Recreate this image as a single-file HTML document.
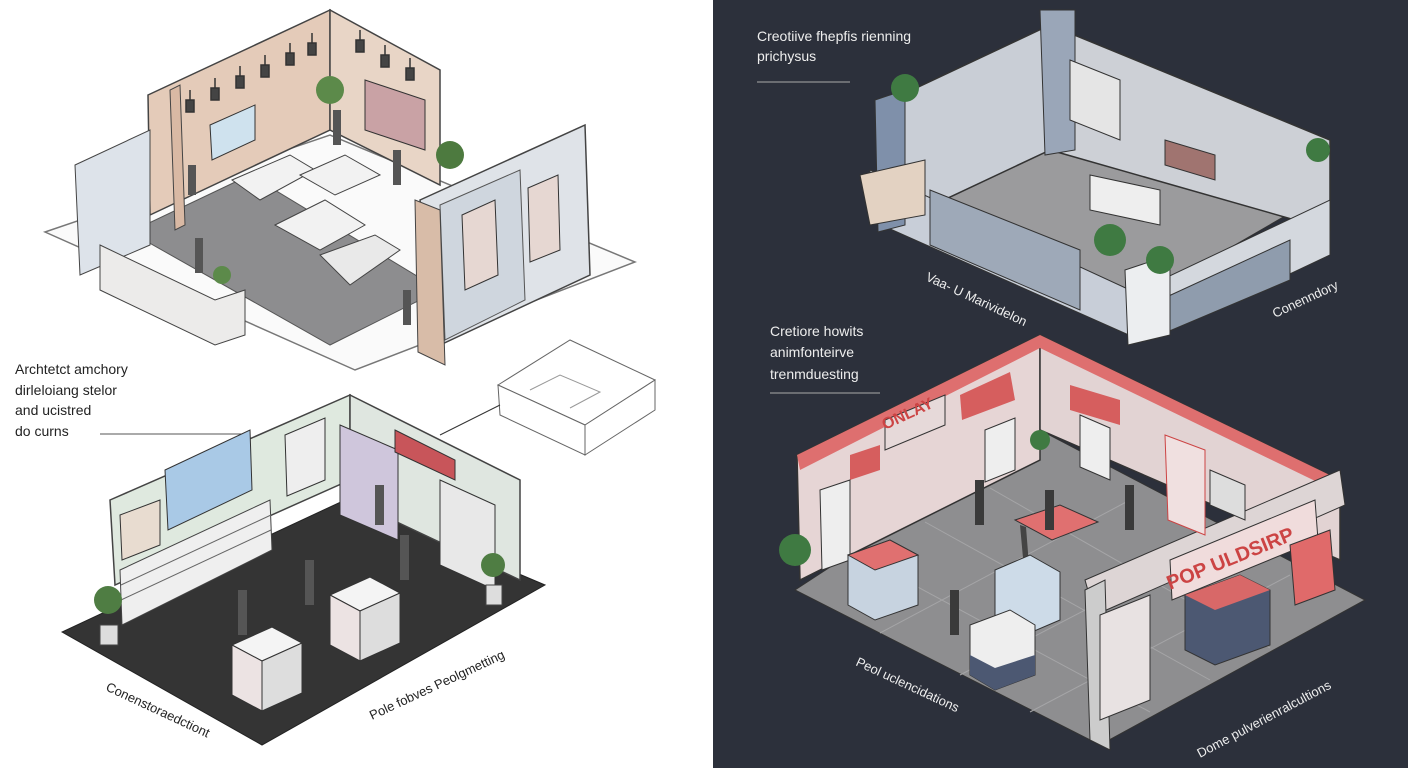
<!DOCTYPE html>
<html><head><meta charset="utf-8"><style>
html,body{margin:0;padding:0;width:1408px;height:768px;overflow:hidden;background:#fff}
svg text{font-family:"Liberation Sans",sans-serif}
</style></head><body>
<svg width="1408" height="768" viewBox="0 0 1408 768" xmlns="http://www.w3.org/2000/svg">
<defs>
<g id="box"><polygon points="0,0 40,-18 70,-2 30,16" fill="#f4f4f4" stroke="#333"/><polygon points="0,0 30,16 30,66 0,50" fill="#ece3e3" stroke="#333"/><polygon points="30,16 70,-2 70,48 30,66" fill="#ddd" stroke="#333"/></g>
</defs>
<rect x="0" y="0" width="713" height="768" fill="#ffffff"/>
<rect x="713" y="0" width="695" height="768" fill="#2c303b"/>

<!-- TOP LEFT STORE -->
<polygon points="45,232 355,370 635,262 330,135" fill="#fafafa" stroke="#777" stroke-width="1.5"/>
<polygon points="130,232 330,345 440,290 250,175" fill="#8d8d8f" stroke="#555"/>
<polygon points="148,95 330,10 330,130 150,215" fill="#e4cbb9" stroke="#444" stroke-width="1.5"/>
<polygon points="330,10 440,70 440,185 330,130" fill="#e8d5c6" stroke="#444" stroke-width="1.5"/>
<polygon points="170,90 175,230 185,225 180,85" fill="#d9b9a4" stroke="#444"/>
<g stroke="#333" stroke-width="1.5" fill="#444">
<line x1="190" y1="90" x2="190" y2="100"/><rect x="186" y="100" width="8" height="12"/>
<line x1="215" y1="78" x2="215" y2="88"/><rect x="211" y="88" width="8" height="12"/>
<line x1="240" y1="66" x2="240" y2="76"/><rect x="236" y="76" width="8" height="12"/>
<line x1="265" y1="55" x2="265" y2="65"/><rect x="261" y="65" width="8" height="12"/>
<line x1="290" y1="43" x2="290" y2="53"/><rect x="286" y="53" width="8" height="12"/>
<line x1="312" y1="33" x2="312" y2="43"/><rect x="308" y="43" width="8" height="12"/>
<line x1="360" y1="30" x2="360" y2="40"/><rect x="356" y="40" width="8" height="12"/>
<line x1="385" y1="45" x2="385" y2="55"/><rect x="381" y="55" width="8" height="12"/>
<line x1="410" y1="58" x2="410" y2="68"/><rect x="406" y="68" width="8" height="12"/>
</g>
<polygon points="420,200 585,125 590,275 440,345" fill="#dfe3e8" stroke="#444" stroke-width="1.5"/>
<polygon points="440,205 520,170 525,300 445,340" fill="#cfd6de" stroke="#555"/>
<polygon points="415,200 440,210 445,365 418,352" fill="#d8bca8" stroke="#444"/>
<polygon points="75,165 150,130 150,245 80,275" fill="#dde3ea" stroke="#444"/>
<polygon points="100,245 215,300 245,290 245,335 215,345 100,290" fill="#ecebea" stroke="#444"/>
<polygon points="210,125 255,105 255,140 212,160" fill="#cfe2ee" stroke="#333"/>
<polygon points="365,80 425,100 425,150 365,130" fill="#c9a2a5" stroke="#333"/>
<polygon points="462,215 495,200 498,275 465,290" fill="#e6d7d2" stroke="#333"/>
<polygon points="528,188 558,175 560,250 530,262" fill="#e6d7d2" stroke="#333"/>
<polygon points="232,180 290,155 315,170 260,200" fill="#f2f2f2" stroke="#444"/>
<polygon points="300,175 345,155 380,175 335,195" fill="#f2f2f2" stroke="#444"/>
<polygon points="275,225 325,200 365,225 320,250" fill="#f2f2f2" stroke="#444"/>
<polygon points="320,255 375,235 400,250 350,285" fill="#e9e9e9" stroke="#444"/>
<circle cx="330" cy="90" r="14" fill="#5c8a4a"/>
<circle cx="450" cy="155" r="14" fill="#4d7a3f"/>
<circle cx="222" cy="275" r="9" fill="#5c8a4a"/>
<g fill="#555"><rect x="188" y="165" width="8" height="30"/><rect x="333" y="110" width="8" height="35"/><rect x="393" y="150" width="8" height="35"/><rect x="195" y="238" width="8" height="35"/><rect x="403" y="290" width="8" height="35"/></g>

<text x="15" y="374" font-size="14" fill="#222">Archtetct amchory</text>
<text x="15" y="395" font-size="14" fill="#222">dirleloiang stelor</text>
<text x="15" y="415" font-size="14" fill="#222">and ucistred</text>
<text x="15" y="436" font-size="14" fill="#222">do curns</text>
<line x1="100" y1="434" x2="242" y2="434" stroke="#555"/>

<polygon points="498,385 570,340 655,380 585,425" fill="#fff" stroke="#666"/>
<polygon points="498,385 585,425 585,455 500,415" fill="#fff" stroke="#666"/>
<polygon points="585,425 655,380 655,410 585,455" fill="#fff" stroke="#666"/>
<polyline points="530,390 560,375 600,392 570,408" fill="none" stroke="#999"/>
<line x1="500" y1="405" x2="440" y2="435" stroke="#333"/>

<!-- BOTTOM LEFT STORE -->
<polygon points="62,632 262,745 545,585 345,500" fill="#343434" stroke="#222"/>
<polygon points="110,500 350,395 350,480 115,585" fill="#dfe9df" stroke="#444" stroke-width="1.5"/>
<polygon points="350,395 520,480 520,580 350,500" fill="#dfe6e0" stroke="#444" stroke-width="1.5"/>
<polygon points="340,425 398,450 398,540 340,515" fill="#cfc6dc" stroke="#333"/>
<polygon points="395,430 455,460 455,480 395,452" fill="#c8555a" stroke="#333"/>
<polygon points="440,480 495,505 495,590 440,565" fill="#e8e8e8" stroke="#333"/>
<polygon points="165,470 250,430 252,490 168,530" fill="#a9c9e6" stroke="#333"/>
<polygon points="120,515 160,500 160,545 122,560" fill="#e8dcd0" stroke="#333"/>
<polygon points="285,435 325,418 325,480 287,496" fill="#eee" stroke="#333"/>
<polygon points="120,570 270,500 272,550 122,625" fill="#efefef" stroke="#444"/>
<g stroke="#666"><line x1="121" y1="585" x2="271" y2="515"/><line x1="121" y1="600" x2="271" y2="530"/></g>
<use href="#box" x="232" y="645"/>
<use href="#box" x="330" y="595"/>
<circle cx="108" cy="600" r="14" fill="#4f7d43"/><rect x="100" y="625" width="18" height="20" fill="#ddd" stroke="#444"/>
<circle cx="493" cy="565" r="12" fill="#4f7d43"/><rect x="486" y="585" width="16" height="20" fill="#ddd" stroke="#444"/>
<g fill="#555"><rect x="238" y="590" width="9" height="45"/><rect x="305" y="560" width="9" height="45"/><rect x="375" y="485" width="9" height="40"/><rect x="400" y="535" width="9" height="45"/></g>
<text x="105" y="690" font-size="13" fill="#222" transform="rotate(25 105 690)">Conenstoraedctiont</text>
<text x="372" y="720" font-size="13" fill="#222" transform="rotate(-25 372 720)">Pole fobves Peolgmetting</text>

<!-- TOP RIGHT STORE -->
<text x="757" y="41" font-size="14" fill="#eee">Creotiive fhepfis rienning</text>
<text x="757" y="61" font-size="14" fill="#eee">prichysus</text>
<line x1="757" y1="82" x2="850" y2="82" stroke="#aaa"/>
<polygon points="860,180 1045,90 1330,190 1140,300" fill="#9b9b9d" stroke="#333"/>
<polygon points="880,105 1050,25 1050,150 880,230" fill="#c9ced6" stroke="#333" stroke-width="1.5"/>
<polygon points="1050,25 1330,140 1330,230 1050,150" fill="#cdd0d6" stroke="#333" stroke-width="1.5"/>
<polygon points="870,170 1130,290 1140,340 870,220" fill="#c8ced8" stroke="#333"/>
<polygon points="930,190 1080,250 1080,310 930,245" fill="#9ea9b8" stroke="#333"/>
<polygon points="1140,290 1330,200 1330,255 1150,340" fill="#d4d8de" stroke="#333"/>
<polygon points="1160,300 1290,240 1290,280 1160,335" fill="#8f9cad" stroke="#333"/>
<polygon points="1040,10 1075,10 1075,150 1045,155" fill="#9aa6b8" stroke="#333"/>
<polygon points="1125,270 1170,255 1170,335 1128,345" fill="#eceef0" stroke="#333"/>
<polygon points="875,100 905,90 905,225 878,232" fill="#7f90aa" stroke="#333"/>
<polygon points="860,175 925,160 925,215 870,225" fill="#e3d2c2" stroke="#333"/>
<polygon points="1070,60 1120,80 1120,140 1070,120" fill="#e5e5e5" stroke="#333"/>
<polygon points="1090,175 1160,190 1160,225 1090,210" fill="#eee" stroke="#333"/>
<polygon points="1165,140 1215,155 1215,180 1165,165" fill="#a07470" stroke="#333"/>
<circle cx="905" cy="88" r="14" fill="#3f7a42"/>
<circle cx="1110" cy="240" r="16" fill="#3f7a42"/><circle cx="1160" cy="260" r="14" fill="#3f7a42"/>
<circle cx="1318" cy="150" r="12" fill="#3f7a42"/>
<text x="925" y="280" font-size="13" fill="#eee" transform="rotate(25 925 280)">Vaa- U Marividelon</text>
<text x="1275" y="318" font-size="13" fill="#eee" transform="rotate(-25 1275 318)">Conenndory</text>

<!-- BOTTOM RIGHT STORE -->
<text x="770" y="336" font-size="14" fill="#eee">Cretiore howits</text>
<text x="770" y="357" font-size="14" fill="#eee">animfonteirve</text>
<text x="770" y="379" font-size="14" fill="#eee">trenmduesting</text>
<line x1="770" y1="393" x2="880" y2="393" stroke="#aaa"/>
<polygon points="795,590 1100,745 1365,600 1040,430" fill="#8e8e90" stroke="#333"/>
<g stroke="#a5a5a7" stroke-width="1"><line x1="860" y1="556" x2="1150" y2="712"/><line x1="925" y1="522" x2="1210" y2="680"/><line x1="990" y1="488" x2="1270" y2="648"/><line x1="880" y1="633" x2="1130" y2="500"/><line x1="960" y1="675" x2="1220" y2="540"/><line x1="1030" y1="712" x2="1290" y2="575"/></g>
<polygon points="797,455 1040,335 1040,460 800,580" fill="#e6d5d5" stroke="#333" stroke-width="1.5"/>
<polygon points="1040,335 1340,480 1340,560 1040,430" fill="#e2d3d3" stroke="#333" stroke-width="1.5"/>
<polygon points="797,455 1040,335 1040,348 800,470" fill="#de6f6f"/>
<polygon points="1040,335 1340,480 1340,493 1040,348" fill="#de6f6f"/>
<polygon points="1085,580 1340,470 1345,505 1095,615" fill="#ddd5d5" stroke="#333"/>
<polygon points="1085,590 1105,580 1110,750 1090,740" fill="#ccc" stroke="#333"/>
<polygon points="1170,560 1315,500 1318,540 1172,600" fill="#f0dcdc" stroke="#333"/>
<polygon points="1100,615 1150,595 1150,700 1100,720" fill="#e8e2e2" stroke="#333"/>
<polygon points="885,420 945,395 945,425 885,450" fill="#e6d9d9" stroke="#333"/>
<polygon points="850,455 880,445 880,470 850,480" fill="#d65e5e"/>
<polygon points="960,395 1010,372 1015,400 962,420" fill="#d65e5e"/>
<polygon points="1070,385 1120,400 1120,425 1070,410" fill="#d65e5e"/>
<polygon points="985,430 1015,418 1015,470 985,482" fill="#eee" stroke="#333"/>
<polygon points="1080,415 1110,428 1110,480 1080,467" fill="#eee" stroke="#333"/>
<polygon points="1210,470 1245,485 1245,520 1210,505" fill="#ddd" stroke="#333"/>
<polygon points="820,490 850,480 850,560 822,570" fill="#eee" stroke="#333"/>
<polygon points="1165,435 1205,450 1205,535 1168,520" fill="#f0e0e0" stroke="#c44"/>
<polygon points="1015,520 1060,505 1098,522 1052,540" fill="#e07070" stroke="#333"/>
<polygon points="1020,525 1025,580 1030,578 1026,527" fill="#444"/>
<polygon points="995,570 1030,555 1060,572 1060,620 1025,635 995,618" fill="#cddbe8" stroke="#333"/>
<polygon points="848,555 890,540 918,555 918,605 875,620 848,605" fill="#c7d3e0" stroke="#333"/>
<polygon points="848,555 890,540 918,555 875,570" fill="#e07070" stroke="#333"/>
<polygon points="970,625 1010,610 1035,625 1035,675 995,690 970,675" fill="#eee" stroke="#333"/>
<polygon points="970,655 995,668 1035,655 1035,675 995,690 970,675" fill="#4c5872"/>
<polygon points="1185,595 1240,575 1270,590 1270,645 1215,665 1185,650" fill="#4c5872" stroke="#333"/>
<polygon points="1185,595 1240,575 1270,590 1215,610" fill="#d86868"/>
<polygon points="1290,545 1330,530 1335,590 1295,605" fill="#e06a6a" stroke="#333"/>
<circle cx="795" cy="550" r="16" fill="#3f7a42"/>
<circle cx="1040" cy="440" r="10" fill="#3f7a42"/>
<g fill="#3a3a3a"><rect x="975" y="480" width="9" height="45"/><rect x="1045" y="490" width="9" height="40"/><rect x="1125" y="485" width="9" height="45"/><rect x="950" y="590" width="9" height="45"/></g>
<text x="885" y="430" font-size="16" font-weight="bold" fill="#c44" transform="rotate(-25 885 430)">ONLAY</text>
<text x="1170" y="590" font-size="20" font-weight="bold" fill="#c44" transform="rotate(-22 1170 590)">POP ULDSIRP</text>
<text x="855" y="665" font-size="13" fill="#eee" transform="rotate(25 855 665)">Peol uclencidations</text>
<text x="1200" y="758" font-size="13" fill="#eee" transform="rotate(-28 1200 758)">Dome pulverienralcultions</text>
</svg>
</body></html>
